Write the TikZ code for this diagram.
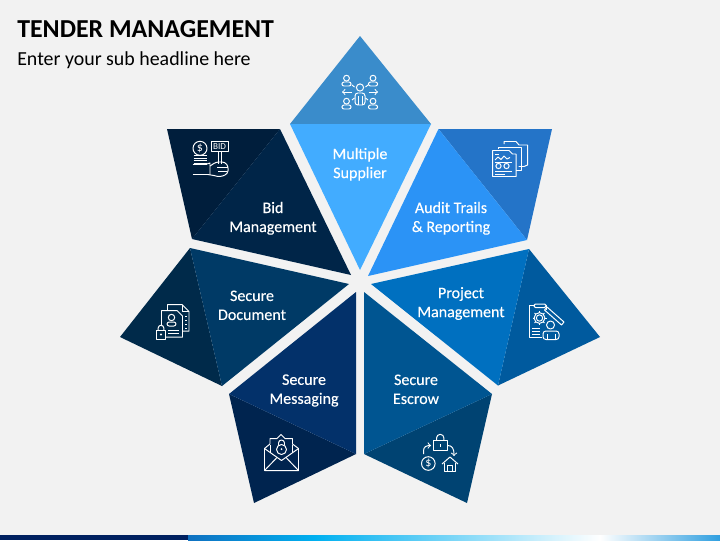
\documentclass[tikz,border=0pt]{standalone}
\usepackage{fontspec}
\setmainfont{Carlito}
\newfontfamily\sectorfont[FakeBold=0.25]{Carlito}
\usetikzlibrary{calc}
\definecolor{pageGrey}{HTML}{F2F2F2}
\definecolor{supplierLight}{HTML}{42ACFF}
\definecolor{supplierDark}{HTML}{3A8CCB}
\definecolor{auditLight}{HTML}{2B93F6}
\definecolor{auditDark}{HTML}{2474C8}
\definecolor{projectLight}{HTML}{0070C0}
\definecolor{projectDark}{HTML}{005A9E}
\definecolor{escrowLight}{HTML}{005591}
\definecolor{escrowDark}{HTML}{004372}
\definecolor{messagingLight}{HTML}{03316A}
\definecolor{messagingDark}{HTML}{00244F}
\definecolor{documentLight}{HTML}{003A66}
\definecolor{documentDark}{HTML}{002A4A}
\definecolor{bidLight}{HTML}{002548}
\definecolor{bidDark}{HTML}{001E3C}
\definecolor{barNavy}{HTML}{002060}
\definecolor{barBlue}{HTML}{0F70C0}
\definecolor{barCyan}{HTML}{00B0F0}
\definecolor{barEnd}{HTML}{2F9FE0}
\tikzset{
	sectorlabel/.style={text=white, align=center, font=\sectorfont\fontsize{11.4}{13.5}\selectfont},
	iconline/.style={draw=white, line width=0.7pt, line join=round},
	icontext/.style={text=white, inner sep=0pt},
}
\def\headbust(#1,#2){\begin{scope}[shift={(#1,#2)}]
	\draw[iconline] (0,-2.8) circle (2.9);
	\draw[iconline,rounded corners=1.5pt] (-4.6,5) -- (-4.6,1) -- (4.6,1) -- (4.6,5) -- cycle;
\end{scope}}

\begin{document}
\begin{tikzpicture}[x=0.025cm,y=-0.025cm]
	%%%%% START %%%%%
	
	\useasboundingbox (0,0) rectangle (720,540);
	\fill[pageGrey] (0,0) rectangle (720,540);
	
	\node[anchor=west, inner sep=0pt, font=\fontsize{18.4}{23}\selectfont\bfseries] (title) at (17,29) {TENDER MANAGEMENT};
	\node[anchor=west, inner sep=0pt, font=\fontsize{14.15}{16}\selectfont] (subtitle) at (17,60) {Enter your sub headline here};
	
	% sectors
	\fill[supplierDark] (360,36) -- (431,124) -- (290,124) -- cycle;
	\fill[supplierLight] (290,124) -- (431,124) -- (360,270) -- cycle;
	
	\fill[auditDark] (438.5,129) -- (552,129) -- (527,240) -- cycle;
	\fill[auditLight] (438.5,129) -- (527,240) -- (368,276) -- cycle;
	
	\fill[projectDark] (529,249) -- (600,337) -- (498,385.5) -- cycle;
	\fill[projectLight] (529,249) -- (498,385.5) -- (371,284) -- cycle;
	
	\fill[escrowDark] (492,394) -- (467,503) -- (364,454) -- cycle;
	\fill[escrowLight] (364,292) -- (492,394) -- (364,454) -- cycle;
	
	\fill[messagingDark] (229,394) -- (356,454) -- (254,503) -- cycle;
	\fill[messagingLight] (356,292) -- (356,454) -- (229,394) -- cycle;
	
	\fill[documentDark] (190,248) -- (222,386) -- (120,337) -- cycle;
	\fill[documentLight] (190,248) -- (349,284) -- (222,386) -- cycle;
	
	\fill[bidDark] (167,129) -- (280,129) -- (192,239) -- cycle;
	\fill[bidLight] (280,129) -- (351,275) -- (192,239) -- cycle;
	
	% labels
	\node[sectorlabel] (supplier) at (360,164.3) {Multiple\\Supplier};
	\node[sectorlabel] (audit) at (451,218.3) {Audit Trails\\\& Reporting};
	\node[sectorlabel] (project) at (461,303.5) {Project\\Management};
	\node[sectorlabel] (escrow) at (416,389.3) {Secure\\Escrow};
	\node[sectorlabel] (messaging) at (304,390.5) {Secure\\Messaging};
	\node[sectorlabel] (document) at (252,305.3) {Secure\\Document};
	\node[sectorlabel] (bid) at (273,218.3) {Bid\\Management};
	
	% icon supplier
	\headbust(346.5,81)
	\headbust(373,81)
	\headbust(346.5,104)
	\headbust(373,104)
	\draw[iconline] (360,87.5) circle (3.6);
	\draw[iconline,rounded corners=2pt] (355,105) -- (355,93) -- (365,93) -- (365,105) -- cycle;
	\draw[iconline] (358,96) -- (358,105) (362,96) -- (362,105);
	\draw[iconline,->] (351.5,92) -- (342,92);
	\draw[iconline,->] (368.5,92) -- (378,92);
	\draw[iconline] (352,85) -- (354.5,87) (368,85) -- (365.5,87) (352,100) -- (354.5,98) (368,100) -- (365.5,98);
	
	% icon audit
	\draw[iconline] (504,144) -- (504,141.5) -- (516,141.5) -- (519,145) -- (527.5,145) -- (527.5,165) -- (524,166.5) -- (518.5,166.5);
	\draw[iconline] (498.5,149) -- (498.5,147.5) -- (521,147.5) -- (521,170) -- (516,170);
	\draw[iconline] (492.5,150.5) -- (509,150.5) -- (512.5,154) -- (516,154) -- (516,176.5) -- (492.5,176.5) -- cycle;
	\draw[iconline] (495,160) -- (498,157) -- (501,159.5) -- (504,156) -- (507,159) -- (510,157.5);
	\draw[iconline] (495,154) -- (499,154);
	\draw[iconline] (495,162) -- (512,162);
	\draw[iconline] (498.5,166) circle (2.6);
	\draw[iconline] (506.5,166) circle (2.6);
	\draw[iconline] (495,171) -- (512,171) (495,174) -- (505,174);
	
	% icon project
	\draw[iconline] (535,305.5) -- (529.5,305.5) -- (529.5,337) -- (542,337);
	\draw[iconline] (545.5,305.5) -- (546.5,305.5) -- (546.5,310);
	\draw[iconline,rounded corners=1pt] (534,307.5) -- (534,304) -- (546,304) -- (546,307.5) -- cycle;
	\draw[iconline] (539.5,318) circle (3.2);
	\draw[iconline] (539.5,318) circle (5.4);
	\foreach \a in {0,45,...,315}
		\draw[iconline] ($(539.5,318)+(\a:5.4)$) -- ($(539.5,318)+(\a:7)$);
	\draw[iconline] (547,307) -- (564,322) -- (561.5,325) -- (544.5,310) -- cycle;
	\draw[iconline] (532,328) -- (540,328) (532,331) -- (540,331) (532,334) -- (540,334);
	\draw[iconline] (550.5,325) circle (4);
	\draw[iconline,rounded corners=2pt] (543,339.5) -- (543,331) -- (559,331) -- (559,339.5) -- cycle;
	\draw[iconline] (547,334) -- (547,339.5) (555,334) -- (555,339.5);
	
	% icon escrow
	\draw[iconline] (433.5,440.5) rectangle (447,450.5);
	\draw[iconline] (436.5,440.5) -- (436.5,438) arc (180:360:3.7) -- (443.9,440.5);
	\draw[iconline] (440.2,444) -- (440.2,447);
	\draw[iconline,->] (423.5,454) -- (423.5,451) .. controls (423.5,447) and (426,445.5) .. (431,445.5);
	\draw[iconline,->] (447.5,445.5) .. controls (452,445.5) and (454,448) .. (454,456);
	\draw[iconline] (428.3,463.5) circle (6.8);
	\node[icontext, font=\fontsize{8.5}{8.5}\selectfont] (dollar) at (428.3,463.5) {\$};
	\draw[iconline] (442,464) -- (450,457) -- (458,464);
	\draw[iconline] (444.5,462.5) -- (444.5,471) -- (455.5,471) -- (455.5,462.5);
	\draw[iconline] (447.8,471) -- (447.8,465.5) -- (452.2,465.5) -- (452.2,471);
	
	% icon messaging
	\draw[iconline] (270,444) -- (270,438.5) -- (277,438.5) -- (281,434.5) -- (285,438.5) -- (292.5,438.5) -- (292.5,444);
	\draw[iconline] (264.5,448.5) -- (270,444) (292.5,444) -- (298.5,448.5);
	\draw[iconline] (264.5,448.5) -- (264.5,470.5) -- (298.5,470.5) -- (298.5,448.5) -- (281.5,460.5) -- cycle;
	\draw[iconline] (264.5,470.5) -- (277,457.5) (298.5,470.5) -- (286,457.5);
	\draw[iconline] (270,452.5) -- (270,445) (292.5,452.5) -- (292.5,445);
	\draw[iconline] (281.5,449.5) circle (5);
	\draw[iconline] (278.5,444.8) -- (278.5,443) arc (180:360:3) -- (284.5,444.8);
	\fill[white] (281.5,449) circle (1);
	
	% icon document
	\draw[iconline] (167.5,310) -- (167.5,304.5) -- (182,304.5) -- (189,311.5) -- (189,331) -- (183,331);
	\draw[iconline] (182,304.5) -- (182,311.5) -- (189,311.5);
	\draw[iconline] (161.5,326) -- (161.5,310.5) -- (177,310.5) -- (182.5,316) -- (182.5,337) -- (166,337);
	\draw[iconline] (185,316) -- (187,316) (185,320) -- (187,320) (185,324) -- (187,324) (185,328) -- (187,328);
	\draw[iconline] (171.5,317.5) circle (3.2);
	\draw[iconline,rounded corners=1.5pt] (167,326) -- (167,322) -- (176,322) -- (176,326) -- cycle;
	\draw[iconline] (168,330) -- (179,330) (168,333.5) -- (179,333.5);
	\draw[iconline] (156.5,330) rectangle (165.5,339);
	\draw[iconline] (158.2,330) -- (158.2,328) arc (180:360:2.8) -- (163.8,330);
	\fill[white] (161,334.5) circle (1.1);
	
	% icon bid
	\draw[iconline] (200,148.3) circle (7);
	\node[icontext, font=\fontsize{8.5}{8.5}\selectfont] (coin) at (200,148.3) {\$};
	\draw[iconline] (193.5,155.5) -- (206.5,155.5) (193.5,158) -- (206.5,158) (193.5,160.5) -- (206.5,160.5) (193.5,163) -- (206.5,163);
	\draw[iconline] (211,141.5) rectangle (228,151.5);
	\node[icontext, font=\fontsize{6.5}{6.5}\selectfont] (sign) at (219.5,146.5) {BID};
	\draw[iconline] (218,151.5) -- (218,164) (221,151.5) -- (221,164);
	\draw[iconline] (192.5,174.5) -- (208,174.5) (192.5,164) -- (207,164);
	\draw[iconline] (207,164) -- (210,163) -- (210,174.5);
	\draw[iconline,rounded corners=2pt] (210,166) -- (216,162) -- (225,162) -- (228.5,167) -- (227.5,174) -- (220,177) -- (214,175.5) -- (208,174.5);
	\draw[iconline] (217,167.5) -- (228,167.5) (218,171.5) -- (227,171.5);
	
	% bottom bar
	\fill[barNavy] (0,535) rectangle (188,540);
	\shade[left color=barBlue, right color=barCyan] (188,535) rectangle (315,540);
	\shade[left color=barCyan, right color=white] (315,535) rectangle (600,540);
	\shade[left color=white, right color=barEnd] (600,535) rectangle (720,540);
	
	%%%%% END %%%%%
\end{tikzpicture}
\end{document}
